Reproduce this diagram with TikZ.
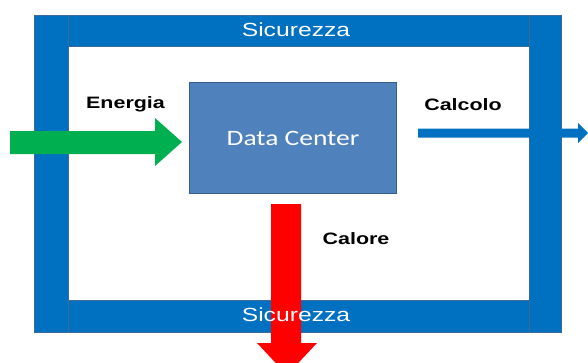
\documentclass[tikz,border=0pt]{standalone}
\usepackage{fontspec}
\setmainfont{Liberation Sans}
\newfontfamily\calib{Carlito}
\definecolor{barblue}{HTML}{0070C0}
\definecolor{baredge}{HTML}{3E6A9A}
\definecolor{dcfill}{HTML}{4F81BD}
\definecolor{dcedge}{HTML}{385D8A}
\definecolor{egreen}{HTML}{00B050}
\definecolor{hred}{HTML}{FF0000}
\tikzset{
  bar/.style={fill=barblue, draw=baredge, line width=0.5pt},
  lbl/.style={font=\fontsize{16.5}{18}\selectfont\bfseries, text=black, inner sep=0pt, xscale=1.3},
  seclbl/.style={font=\fontsize{19}{21}\selectfont, text=white, inner sep=0pt, xscale=1.3},
}
\begin{document}
\begin{tikzpicture}[x=1pt,y=-1pt]
\useasboundingbox (0,0) rectangle (588,362);
\clip (0,0) rectangle (588,362);
% frame
\draw[bar] (34,15) rectangle (68,332);
\draw[bar] (529,15) rectangle (561,332);
\draw[bar] (68,15) rectangle (529,46);
\draw[bar] (68,300) rectangle (529,332);
% data center
\node[draw=dcedge, fill=dcfill, line width=1pt, minimum width=207pt, minimum height=111pt, inner sep=0pt] (dc) at (293,138) {};
\node[font=\calib\fontsize{22}{24}\selectfont, text=white, xscale=1.25, inner sep=0pt] (dct) at (dc.center) {Data Center};
% calcolo arrow
\coordinate (cs) at (418,133);
\coordinate (ce) at (588,133);
\fill[barblue] (418,128.5) -- (578,128.5) -- (578,123) -- (588,133) -- (578,143) -- (578,137.5) -- (418,137.5) -- cycle;
% energy arrow
\fill[egreen] (10,131) -- (155,131) -- (155,118) -- (182,142) -- (155,166) -- (155,154) -- (10,154) -- cycle;
% heat arrow
\fill[hred] (271,204) -- (301,204) -- (301,343) -- (317,343) -- (287,375) -- (257,343) -- (271,343) -- cycle;
% labels
\node[lbl] (en) at (125.5,104) {Energia};
\node[lbl] (ca) at (463,104.5) {Calcolo};
\node[lbl] (cl) at (356,238.5) {Calore};
\node[seclbl] (s1) at (296,29.5) {Sicurezza};
\node[seclbl] (s2) at (296,315) {Sicurezza};
\end{tikzpicture}
\end{document}
